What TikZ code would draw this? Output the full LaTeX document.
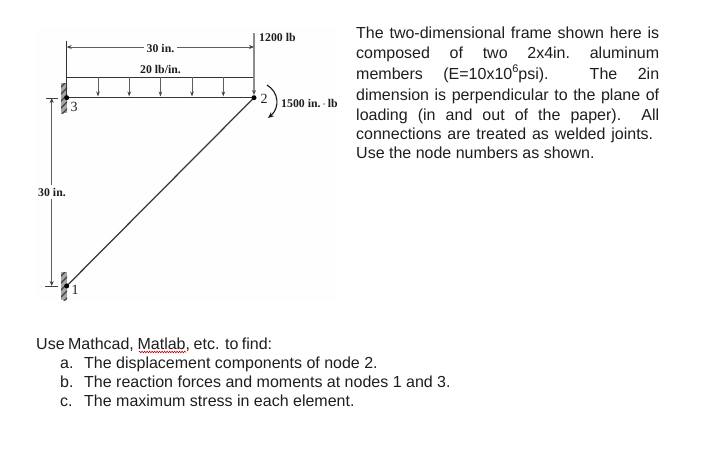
\documentclass[tikz,border=0pt]{standalone}
\usepackage{fontspec}
\setmainfont{Liberation Sans}
\newfontfamily\figfont{Liberation Serif}
\usetikzlibrary{arrows.meta,decorations.pathmorphing}
\definecolor{inkc}{RGB}{30,30,30}
\definecolor{memberc}{RGB}{55,55,55}
\definecolor{dimc}{RGB}{95,95,95}
\definecolor{patchc}{RGB}{254,254,254}
\tikzset{
  fig/.style={font=\figfont\fontsize{11.8}{12}\selectfont\bfseries, text=inkc, inner sep=0pt},
  nodenum/.style={font=\figfont\fontsize{14}{14}\selectfont, text=inkc, inner sep=0pt},
  para/.style={font=\fontsize{16}{18}\selectfont, text=inkc, anchor=base west, inner sep=0pt},
  joint/.style={circle, fill=black, inner sep=0pt, minimum size=5pt},
  member/.style={draw=memberc, line width=1.25pt},
  dimline/.style={draw=dimc, line width=1pt},
  dimarrow/.style={dimline, -{Stealth[length=5pt,width=4pt,color=black!75]}},
  loadarrow/.style={draw=dimc, line width=.9pt, -{Stealth[length=5pt,width=3.5pt,color=black!75]}},
  wallbox/.style={fill=black!35},
  hatchline/.style={draw=black!75, line width=1.1pt},
}
\newcommand{\wallhatch}[2]{%
  \begin{scope}
    \clip (61,#1) rectangle (67,#2);
    \fill[wallbox] (61,#1) rectangle (67,#2);
    \foreach \k in {0,7,...,35}{\draw[hatchline] (58,#1+\k) -- (70,#1+\k-12);}
  \end{scope}}
\begin{document}
\begin{tikzpicture}[x=1pt,y=-1pt]
\useasboundingbox (0,0) rectangle (701,464);
\fill[white] (0,0) rectangle (701,464);
\fill[patchc] (36,28) rectangle (338,300);

% walls
\wallhatch{83}{113}
\wallhatch{272}{300}

% nodes and reference coordinates
\coordinate (c3) at (66.7,97.7);
\coordinate (c2) at (254,97.7);
\coordinate (c1) at (66.7,286);
\coordinate (loadL) at (66.7,77);
\coordinate (loadR) at (254,77);
\coordinate (topR) at (254,33);
\coordinate (dimL) at (66.7,47);
\coordinate (dimR) at (254,47);
\coordinate (tickL) at (66.7,41);
\coordinate (vT) at (51.7,98);
\coordinate (vB) at (51.7,286);
\coordinate (tTa) at (46,98);
\coordinate (tTb) at (58,98);
\coordinate (tBa) at (45,286);
\coordinate (tBb) at (58,286);
\coordinate (momA) at (267,85);
\coordinate (momB) at (268,118);

% members
\draw[member] (c3) -- (c2);
\draw[member] (c1) -- (c2);

% distributed load
\draw[draw=black!80, line width=.8pt] (c3) -- (loadL) -- (loadR);
\foreach \x/\i in {98/a,129.2/b,160.4/c,192/d,223.3/e}{
  \coordinate (la\i) at (\x,77);
  \coordinate (lb\i) at (\x,96.5);
  \draw[loadarrow] (la\i) -- (lb\i);
}

% point load
\draw[draw=black!45, line width=1.1pt, -{Stealth[length=5pt,width=4pt,color=black!70]}] (topR) -- (254,95);

% joints
\node[joint] (n3) at (c3) {};
\node[joint] (n2) at (c2) {};
\node[joint] (n1) at (c1) {};

% dimensions
\draw[draw=black!80, line width=.8pt] (tickL) -- (loadL);
\node[fig] (d30) at (160.5,48) {30 in.};
\draw[dimarrow] (d30.west) ++(-3,-1) coordinate (d30a) (d30a) -- (dimL);
\draw[dimarrow] (d30.east) ++(3,-1) coordinate (d30b) (d30b) -- (dimR);
\node[fig] (d20) at (160.5,69) {20 lb/in.};
\node[fig, anchor=west] (l1200) at (259,37) {1200 lb};
\node[fig, anchor=west] (l1500) at (281,103.5) {1500 in.\,$\cdot$\,lb};

\node[fig] (v30) at (52,192) {30 in.};
\draw[dimarrow] (v30.north) ++(-.3,-3) coordinate (v30a) (v30a) -- (vT);
\draw[dimarrow] (v30.south) ++(-.3,3) coordinate (v30b) (v30b) -- (vB);
\draw[draw=black!75, line width=.8pt] (tTa) -- (tTb);
\draw[draw=black!75, line width=.8pt] (tBa) -- (tBb);

% applied moment
\draw[draw=black!90, line width=1.1pt, -{Stealth[length=6pt,width=5pt]}]
  (momA) .. controls (279,92) and (280,108) .. (momB);

% node numbers
\node[nodenum] (t2) at (264,98.5) {2};
\node[nodenum] (t3) at (74,106.5) {3};
\node[nodenum] (t1) at (75,289.5) {1};

% description
\node[para] (p1) at (356,38) {\makebox[303pt][s]{The two-dimensional frame shown here is}};
\node[para] (p2) at (356,58) {\makebox[303pt][s]{composed\hfil of\hfil two\hfil 2x4in.\hfil aluminum}};
\node[para] (p3) at (356,79) {\makebox[303pt][s]{members\hfil (E=10x10\raisebox{.42em}{\fontsize{11}{11}\selectfont 6}psi).\hfil\hfil The\hfil 2in}};
\node[para] (p4) at (356,100.5) {\makebox[303pt][s]{dimension is perpendicular to the plane of}};
\node[para] (p5) at (356,120) {\makebox[303pt][s]{loading\hfil (in\hfil and\hfil out\hfil of\hfil the\hfil paper).\hfil\hfil All}};
\node[para] (p6) at (356,139) {\makebox[297pt][s]{connections are treated as welded joints.}};
\node[para] (p7) at (356,158) {Use the node numbers as shown.};

% questions
\node[para] (q0) at (36,349) {\makebox[236pt][s]{Use Mathcad, Matlab, etc. to find:}};
\node[para] (qa) at (60,368) {a.};
\node[para] (qat) at (84,368) {The displacement components of node 2.};
\node[para] (qb) at (60,387) {b.};
\node[para] (qbt) at (84,387) {The reaction forces and moments at nodes 1 and 3.};
\node[para] (qc) at (60,406) {c.};
\node[para] (qct) at (84,406) {The maximum stress in each element.};

% spell-check squiggle
\coordinate (sqA) at (139,352);
\coordinate (sqB) at (186,352);
\draw[draw=red!75!black, line width=.6pt, decorate, decoration={zigzag, segment length=2.5pt, amplitude=.8pt}] (sqA) -- (sqB);
\end{tikzpicture}
\end{document}
